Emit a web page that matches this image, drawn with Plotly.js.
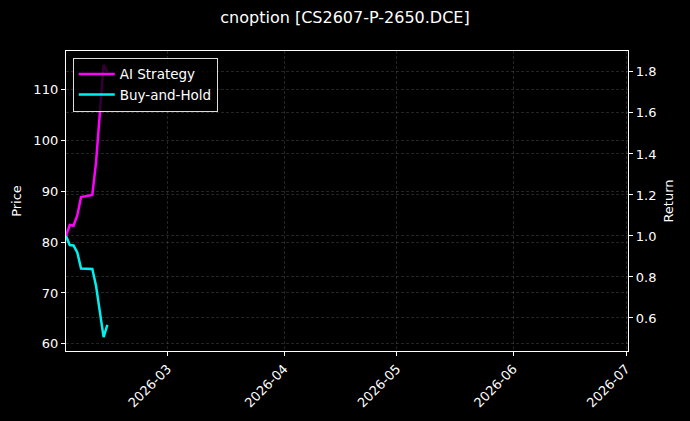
<!DOCTYPE html>
<html>
<head>
<meta charset="utf-8">
<script src="https://cdn.plot.ly/plotly-3.0.1.min.js"></script>
<style>
  html, body { margin: 0; padding: 0; background: #000; }
  #chart { width: 690px; height: 421px; }
</style>
</head>
<body>
<div id="chart"></div>
<script>
  // trading days
  var dates = ['2026-02-02', '2026-02-03', '2026-02-04', '2026-02-05', '2026-02-06',
               '2026-02-09', '2026-02-10', '2026-02-11', '2026-02-12', '2026-02-13'];
  var aiStrategy = [1.00, 1.054, 1.05, 1.10, 1.19, 1.20, 1.36, 1.62, 1.835, 1.80];
  var buyHold    = [1.00, 0.956, 0.954, 0.92, 0.841, 0.839, 0.756, 0.63, 0.507, 0.566];

  var priceTicks  = [60, 70, 80, 90, 100, 110];
  var returnTicks = [0.6, 0.8, 1.0, 1.2, 1.4, 1.6, 1.8];
  var monthTicks  = ['2026-03-01', '2026-04-01', '2026-05-01', '2026-06-01', '2026-07-01'];
  var monthLabels = ['2026-03', '2026-04', '2026-05', '2026-06', '2026-07'];

  var gridCol = 'rgba(150,150,150,0.4)';
  var fnt = { family: 'DejaVu Sans', size: 13, color: '#fff' };

  var traces = [
    {
      // holds the left price axis in place; the price series itself is not visible in the picture
      x: [], y: [], yaxis: 'y', showlegend: false, hoverinfo: 'skip',
      type: 'scatter', mode: 'lines'
    },
    {
      x: dates, y: aiStrategy, name: 'AI Strategy', yaxis: 'y2',
      type: 'scatter', mode: 'lines',
      line: { color: '#ff00ff', width: 2.5 }
    },
    {
      x: dates, y: buyHold, name: 'Buy-and-Hold', yaxis: 'y2',
      type: 'scatter', mode: 'lines',
      line: { color: '#00f0f0', width: 2.5 }
    }
  ];

  var layout = {
    width: 690, height: 421,
    paper_bgcolor: '#000', plot_bgcolor: '#000',
    font: fnt,
    margin: { l: 66, r: 62, t: 51, b: 70 },
    title: {
      text: 'cnoption [CS2607-P-2650.DCE]',
      font: { family: 'DejaVu Sans', size: 16, color: '#fff' },
      x: 0.5, xanchor: 'center', y: 0.958, yanchor: 'middle'
    },
    showlegend: true,
    legend: {
      x: 0.012, y: 0.978, xanchor: 'left', yanchor: 'top',
      bgcolor: 'rgba(0,0,0,0.8)', bordercolor: '#ddd', borderwidth: 1,
      font: { family: 'DejaVu Sans', size: 13.5, color: '#fff' },
      itemwidth: 36, tracegroupgap: 2
    },
    xaxis: {
      type: 'date',
      range: ['2026-02-02', '2026-07-01 12:00'],
      tickvals: monthTicks, ticktext: monthLabels,
      tickangle: -45,
      ticks: 'outside', ticklen: 4, tickcolor: '#fff',
      showline: true, linecolor: '#fff', linewidth: 1.2, mirror: true,
      showgrid: true, gridcolor: gridCol, griddash: '3px,2px', gridwidth: 0.6,
      zeroline: false, tickfont: fnt
    },
    yaxis: {
      title: { text: 'Price', font: fnt, standoff: 8 },
      range: [58.6, 117.5],
      tickvals: priceTicks,
      ticks: 'outside', ticklen: 4, tickcolor: '#fff',
      showline: true, linecolor: '#fff', linewidth: 1.2, mirror: true,
      showgrid: true, gridcolor: gridCol, griddash: '3px,2px', gridwidth: 0.6,
      zeroline: false, tickfont: fnt
    },
    yaxis2: {
      title: { text: 'Return', font: fnt, standoff: 8 },
      overlaying: 'y', side: 'right',
      range: [0.439, 1.902],
      tickvals: returnTicks, tickformat: '.1f',
      ticks: 'outside', ticklen: 4, tickcolor: '#fff',
      showline: true, linecolor: '#fff', linewidth: 1.2,
      showgrid: true, gridcolor: gridCol, griddash: '3px,2px', gridwidth: 0.6,
      zeroline: false, tickfont: fnt
    }
  };

  Plotly.newPlot('chart', traces, layout, { displayModeBar: false, staticPlot: true });
</script>
</body>
</html>
